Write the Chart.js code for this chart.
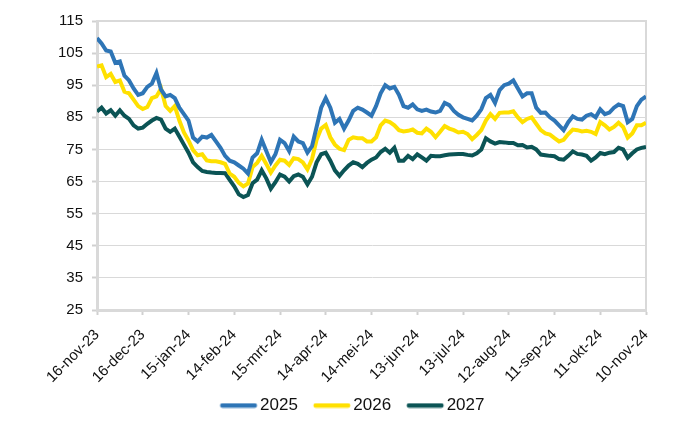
<!DOCTYPE html>
<html>
<head>
<meta charset="utf-8">
<script src="https://cdn.jsdelivr.net/npm/chart.js@4"></script>
<style>
  html, body { margin: 0; padding: 0; background: #ffffff; }
  #wrap { width: 700px; height: 430px; }
</style>
</head>
<body>
<div id="wrap"><canvas id="c" width="700" height="430"></canvas></div>
<script>
// ---- DATA ----
// days since 16-nov-23 (every 3 days)
const days = [0,3,6,9,12,15,18,21,24,27,30,33,36,39,42,45,48,51,54,57,60,63,66,69,72,75,78,81,84,87,90,93,96,99,102,105,108,111,114,117,120,123,126,129,132,135,138,141,144,147,150,153,156,159,162,165,168,171,174,177,180,183,186,189,192,195,198,201,204,207,210,213,216,219,222,225,228,231,234,237,240,243,246,249,252,255,258,261,264,267,270,273,276,279,282,285,288,291,294,297,300,303,306,309,312,315,318,321,324,327,330,333,336,339,342,345,348,351,354,357,360];

const s2025 = [109.7,108,105.8,105.5,102,102.4,98,96.5,94,92,92.5,94.5,95.5,98.8,93.6,91.5,92,91,88,86,84,78.7,77.5,79,78.7,79.5,77.5,75.5,73,71.5,71,70,69,67.5,72.5,73.8,78,74.5,71,73.5,78,77,74.5,79,77.5,77,74,76,82,88,91,88,83.3,84.5,81.5,84,87,88,87.4,86.5,85.5,88.5,92.5,95,94,94.5,92,88.5,88,89,87.5,87,87.4,86.8,86.5,87,89.5,88.8,87,85.8,85,84.5,84,85.5,87.5,91,92,89.5,93.5,95,95.5,96.5,94,91.5,92.5,92.5,88,86.4,86.5,85,84,82.5,81,83.5,85.3,84.5,84.3,85.5,86,85,87.5,86,86.5,88,89,88.5,83.5,84.5,88.5,90.5,91.5];

const s2026 = [100.8,101.2,97.5,98.5,96,96.5,93,92.5,90.5,88.5,87.6,88.2,91,91.5,94,88.5,87,88.5,84,80.3,77.8,74.8,73.2,73.5,71.6,71.3,71.3,71,70.5,67.5,66.5,64.6,63.5,64.4,69.5,70.8,73,70.5,67.8,70,71.8,71.5,70.2,72.3,72,71,68.8,72,78,81.5,82.6,78.8,76.5,75.2,74.8,78,78.8,78.5,78.5,77.5,77.5,78.8,82.5,84,83.5,82.5,81,80.6,80.8,81.2,80.2,80,81.5,80.5,78.8,80.5,82.3,81.5,81,80.3,80.5,79.8,78.2,79.5,81,84,86,84.5,86.4,86.5,86.5,86.9,85,83.5,84.5,85,83,81,80,79.6,78.5,77.5,78,79.8,81.2,81,80.6,80.8,80.5,79.8,83.5,82.5,81.2,82,83.3,82,78.7,80,82.5,82.5,83.3];

const s2027 = [86.8,88,86.2,87.2,85.5,87.2,85.5,84.5,82.5,81.5,81.8,83,84,84.8,84.3,81.5,80.5,81.5,79,76.5,74,71,69.5,68.3,68,67.8,67.7,67.7,67.6,65.5,63.5,61,60.2,60.8,64.5,65.6,68.5,66,62.8,64.8,67.2,66.5,65,66.7,67.2,66.5,64.1,66.5,71,73.5,74,71.5,68.5,66.8,68.5,70,71,70.5,69.5,70.8,71.8,72.5,74.2,75.2,74,75.5,71.5,71.5,73,72,73.5,72.5,71.5,73,72.9,72.9,73.2,73.4,73.5,73.6,73.6,73.3,73.1,73.8,75,78.5,77.5,76.8,77.3,77.2,77,77,76.3,76.4,75.6,75.8,75,73.4,73.2,73,72.9,72,71.8,73,74.4,73.6,73.4,73,71.5,72.5,73.9,73.5,74,74.2,75.5,75,72.4,73.8,75,75.5,75.8];

const seriesNames = ['2025', '2026', '2027'];
const xTickLabels = ['16-nov-23','16-dec-23','15-jan-24','14-feb-24','15-mrt-24','14-apr-24','14-mei-24','13-jun-24','13-jul-24','12-aug-24','11-sep-24','11-okt-24','10-nov-24'];
const xTickStep = 30;
const yMin = 25, yMax = 115, yStep = 10;

// ---- CHART ----
const colors = ['#2E75B6', '#FFE000', '#0B5455'];
const seriesValues = [s2025, s2026, s2027];
const FONT = '"Liberation Sans", Arial, sans-serif';

const frame = {
  id: 'frame',
  afterLayout(chart) {
    // centre the legend a little to the right, as in the original
    if (chart.legend) { chart.legend.left += 30; chart.legend.right += 30; }
  },
  beforeDatasetsDraw(chart) {
    const {ctx, chartArea: a} = chart;
    ctx.save();
    ctx.strokeStyle = '#d9d9d9';
    ctx.lineWidth = 2;
    ctx.beginPath();
    ctx.moveTo(a.left, a.top);
    ctx.lineTo(a.right, a.top);
    ctx.lineTo(a.right, a.bottom);
    ctx.stroke();
    ctx.restore();
  }
};

function swatch(color) {
  const c = document.createElement('canvas');
  c.width = 44; c.height = 6;
  const g = c.getContext('2d');
  g.strokeStyle = color;
  g.lineWidth = 4.5;
  g.lineCap = 'round';
  g.beginPath();
  g.moveTo(7.75, 3);
  g.lineTo(40.25, 3);
  g.stroke();
  return c;
}

const tickFont = { family: FONT, size: 15 };
const noLabelClip = (scale) => { scale._computeLabelArea = () => undefined; };

new Chart(document.getElementById('c'), {
  type: 'line',
  data: {
    datasets: seriesNames.map((name, i) => ({
      label: name,
      data: days.map((d, j) => ({ x: d, y: seriesValues[i][j] })),
      borderColor: colors[i],
      backgroundColor: colors[i],
      borderWidth: 4,
      pointRadius: 0,
      tension: 0,
      fill: false
    }))
  },
  options: {
    responsive: false,
    animation: false,
    devicePixelRatio: 1,
    layout: { padding: { left: 0, right: 54, top: 21, bottom: 6 } },
    plugins: {
      legend: {
        position: 'bottom',
        labels: {
          usePointStyle: true,
          pointStyleWidth: 30,
          padding: 17,
          color: '#111111',
          font: { family: FONT, size: 17 },
          generateLabels(chart) {
            const items = Chart.defaults.plugins.legend.labels.generateLabels(chart);
            items.forEach((it, i) => { it.pointStyle = swatch(colors[i]); });
            return items;
          }
        }
      },
      tooltip: { enabled: false }
    },
    scales: {
      x: {
        type: 'linear',
        min: days[0],
        max: days[days.length - 1],
        afterFit(scale) { scale.height = 70; noLabelClip(scale); },
        afterBuildTicks(scale) {
          scale.ticks = xTickLabels.map((l, i) => ({ value: i * xTickStep }));
        },
        ticks: {
          autoSkip: false,
          minRotation: 45,
          maxRotation: 45,
          padding: 11,
          color: '#111111',
          font: tickFont,
          callback(value) { return xTickLabels[Math.round(value / xTickStep)]; }
        },
        grid: {
          drawOnChartArea: false,
          drawTicks: true,
          tickLength: 5,
          tickWidth: 2,
          tickColor: '#d0d0d0'
        },
        border: { display: true, color: '#d9d9d9', width: 3 }
      },
      y: {
        min: yMin,
        max: yMax,
        afterFit(scale) { scale.width = 97; noLabelClip(scale); },
        ticks: {
          stepSize: yStep,
          padding: 9,
          color: '#111111',
          font: tickFont
        },
        grid: {
          color: '#d9d9d9',
          lineWidth: 1,
          tickLength: 5,
          tickWidth: 2,
          tickColor: '#d0d0d0'
        },
        border: { display: true, color: '#d9d9d9', width: 3 }
      }
    }
  },
  plugins: [frame]
});
</script>
</body>
</html>
